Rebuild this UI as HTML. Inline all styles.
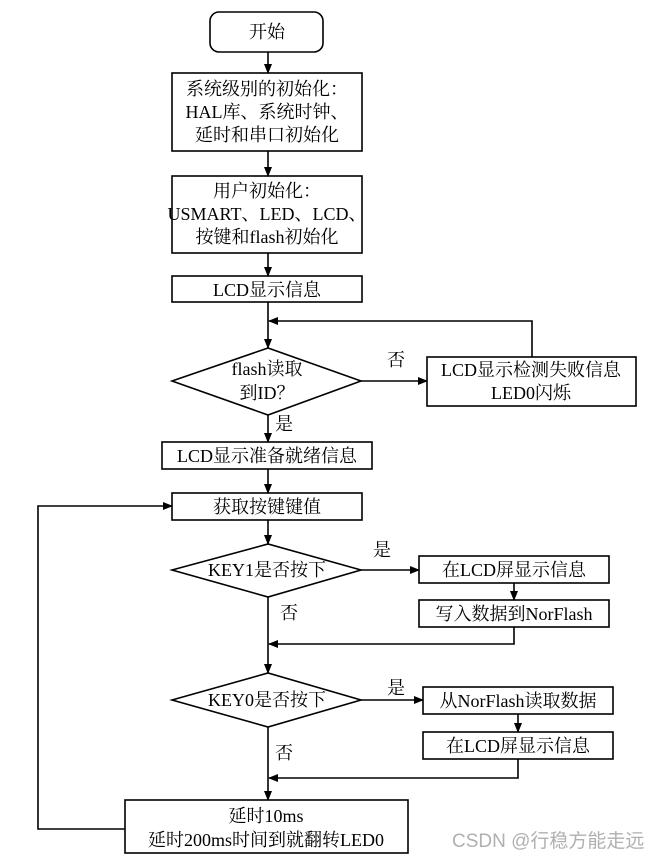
<!DOCTYPE html>
<html><head><meta charset="utf-8"><style>
html,body{margin:0;padding:0;background:#fff;}
svg text{font-family:"Liberation Serif","Noto Serif CJK SC",serif;font-size:18px;fill:#000;}
</style></head><body>
<svg width="659" height="858" viewBox="0 0 659 858" xmlns="http://www.w3.org/2000/svg">
<defs><marker id="a" markerWidth="10" markerHeight="8" refX="9" refY="4" orient="auto" markerUnits="userSpaceOnUse"><path d="M0,0 L10,4 L0,8 z" fill="#000"/></marker></defs>
<g fill="none" stroke="#000" stroke-width="1.6">
<rect x="210" y="12" width="113" height="40" rx="9"/>
<rect x="172" y="73" width="190" height="78"/>
<rect x="172" y="176" width="190" height="77"/>
<rect x="172" y="276" width="190" height="26"/>
<polygon points="172,381 268,348 361,381 268,415"/>
<rect x="427" y="357" width="209" height="49"/>
<rect x="162" y="442" width="210" height="27"/>
<rect x="172" y="493" width="190" height="27"/>
<polygon points="172,570 268,544 361,570 268,597"/>
<rect x="419" y="556" width="190" height="27"/>
<rect x="419" y="600" width="190" height="27"/>
<polygon points="172,700 268,673 361,700 268,727"/>
<rect x="423" y="687" width="190" height="27"/>
<rect x="423" y="732" width="190" height="27"/>
<rect x="125" y="800" width="283" height="53"/>
<g marker-end="url(#a)">
<line x1="268" y1="52" x2="268" y2="73"/>
<line x1="268" y1="151" x2="268" y2="176"/>
<line x1="268" y1="253" x2="268" y2="276"/>
<line x1="268" y1="302" x2="268" y2="348"/>
<polyline points="532,357 532,321 269,321"/>
<line x1="361" y1="381" x2="427" y2="381"/>
<line x1="268" y1="415" x2="268" y2="442"/>
<line x1="268" y1="469" x2="268" y2="493"/>
<line x1="268" y1="520" x2="268" y2="544"/>
<line x1="361" y1="570" x2="419" y2="570"/>
<line x1="514" y1="583" x2="514" y2="600"/>
<polyline points="514,627 514,644 269,644"/>
<line x1="268" y1="597" x2="268" y2="673"/>
<line x1="361" y1="700" x2="423" y2="700"/>
<line x1="518" y1="714" x2="518" y2="732"/>
<polyline points="518,759 518,778 269,778"/>
<line x1="268" y1="727" x2="268" y2="800"/>
<polyline points="125,829 38,829 38,506 172,506"/>
</g>
</g>
<g text-anchor="middle">
<text x="267" y="38">开始</text>
<text x="267" y="95">系统级别的初始化：</text>
<text x="267" y="118">HAL库、系统时钟、</text>
<text x="267" y="141">延时和串口初始化</text>
<text x="267" y="197">用户初始化：</text>
<text x="267" y="220">USMART、LED、LCD、</text>
<text x="267" y="243">按键和flash初始化</text>
<text x="267" y="296">LCD显示信息</text>
<text x="267" y="375">flash读取</text>
<text x="267" y="399">到ID？</text>
<text x="531" y="376">LCD显示检测失败信息</text>
<text x="531" y="399">LED0闪烁</text>
<text x="267" y="462">LCD显示准备就绪信息</text>
<text x="267" y="513">获取按键键值</text>
<text x="267" y="576">KEY1是否按下</text>
<text x="514" y="576">在LCD屏显示信息</text>
<text x="514" y="620">写入数据到NorFlash</text>
<text x="267" y="706">KEY0是否按下</text>
<text x="518" y="707">从NorFlash读取数据</text>
<text x="518" y="752">在LCD屏显示信息</text>
<text x="266" y="822">延时10ms</text>
<text x="266" y="846">延时200ms时间到就翻转LED0</text>
</g>
<text x="387" y="366">否</text>
<text x="275" y="430">是</text>
<text x="373" y="556">是</text>
<text x="280" y="619">否</text>
<text x="387" y="694">是</text>
<text x="275" y="759">否</text>
<text x="452" y="847" style="font-family:'Liberation Sans','Noto Sans CJK SC',sans-serif;font-size:19px;fill:#b0b0b0">CSDN @行稳方能走远</text>
</svg>
</body></html>
